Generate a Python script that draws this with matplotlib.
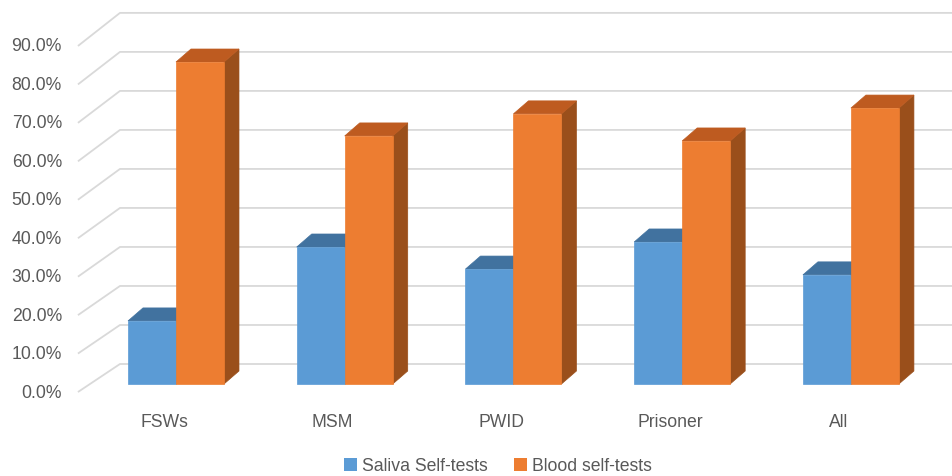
import matplotlib
matplotlib.use("Agg")
import matplotlib.pyplot as plt
from matplotlib.patches import Polygon, Patch

# Data
categories = ["FSWs", "MSM", "PWID", "Prisoner", "All"]
saliva = [16.3, 35.4, 29.7, 36.7, 28.2]
blood = [83.2, 64.1, 69.8, 62.8, 71.3]
series_names = ["Saliva Self-tests", "Blood self-tests"]
tick_values = list(range(0, 100, 10))
tick_labels = [f"{v:.1f}%" for v in tick_values]

# Colours (front, top, side)
blue = ("#5B9BD5", "#41729F", "#3A6794")
orange = ("#ED7D31", "#BE5B20", "#9A4F1B")
grid_color = "#D9D9D9"
text_color = "#595959"
font = "Liberation Sans"
fs = 12.7

fig = plt.figure(figsize=(9.52, 4.77), dpi=100)
ax = fig.add_axes([0, 0, 1, 1])
ax.set_xlim(-1.043, 4.599)
ax.set_ylim(-23.77, 99.48)
ax.axis("off")

# Oblique depth offsets (category units, percent units)
bar_w = 0.2844
dx = 0.0889
dy = 3.36

# Walls: slanted floor/side part plus horizontal back-wall line
x_front, x_back, x_right = -0.581, -0.332, 4.599
for v in tick_values:
    yf = v * 0.9935 - 2.07
    yb = v * 1.008 + 5.17
    ax.plot([x_front, x_back, x_right], [yf, yb, yb], color=grid_color,
            lw=1.3, solid_capstyle="butt", zorder=1)
    ax.text(-0.676, yf, f"{v:.1f}%", ha="right", va="center",
            fontsize=fs, family=font, color=text_color)


def draw_box(x0, h, cols, z):
    x1 = x0 + bar_w
    top = Polygon([(x0, h), (x1, h), (x1 + dx, h + dy), (x0 + dx, h + dy)],
                  closed=True, facecolor=cols[1], edgecolor=cols[1], lw=0.5, zorder=z)
    side = Polygon([(x1, 0), (x1 + dx, dy), (x1 + dx, h + dy), (x1, h)],
                   closed=True, facecolor=cols[2], edgecolor=cols[2], lw=0.5, zorder=z)
    front = Polygon([(x0, 0), (x1, 0), (x1, h), (x0, h)],
                    closed=True, facecolor=cols[0], edgecolor=cols[0], lw=0.5, zorder=z + 0.5)
    for p in (side, top, front):
        ax.add_patch(p)


for i, (s, b) in enumerate(zip(saliva, blood)):
    draw_box(i - bar_w, s, blue, 2 + i * 2)
    draw_box(i, b, orange, 3 + i * 2)
    ax.text(i - 0.071, -9.56, categories[i], ha="center", va="center",
            fontsize=fs, family=font, color=text_color)

handles = [Patch(facecolor=blue[0], edgecolor="none"),
           Patch(facecolor=orange[0], edgecolor="none")]
leg = fig.legend(handles, series_names, loc="center", ncol=2,
                 bbox_to_anchor=(498 / 952, 1 - 467 / 477), frameon=False,
                 handlelength=0.7, handleheight=0.7, handletextpad=0.3,
                 columnspacing=1.5, prop={"family": font, "size": fs})
for t in leg.get_texts():
    t.set_color(text_color)

fig.savefig("out.png", dpi=100)
